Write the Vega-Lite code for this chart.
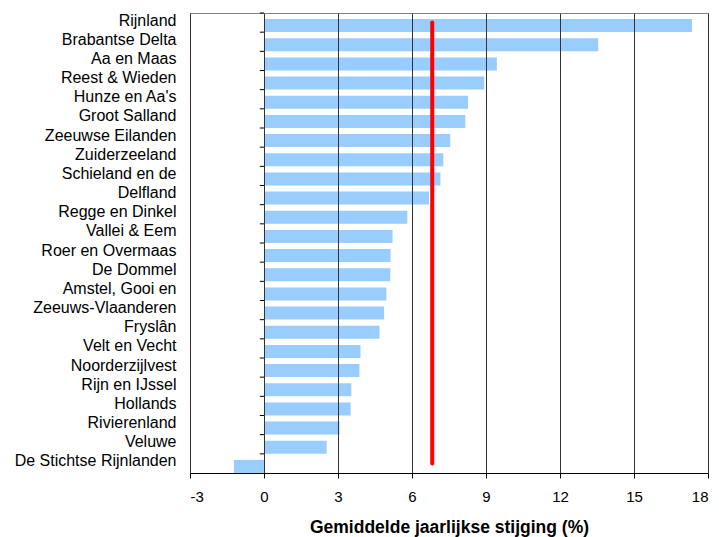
{
  "$schema": "https://vega.github.io/schema/vega-lite/v6.json",
  "width": 518,
  "height": 460,
  "autosize": {"type": "none"},
  "padding": {"left": 190, "top": 13, "right": 11, "bottom": 64},
  "config": {
    "font": "Liberation Sans",
    "view": {"stroke": "#808080", "strokeWidth": 1},
    "background": "white"
  },
  "datasets": {
    "bars": [
      {"region": "Rijnland", "value": 17.35},
      {"region": "Brabantse Delta", "value": 13.55},
      {"region": "Aa en Maas", "value": 9.44},
      {"region": "Reest & Wieden", "value": 8.93},
      {"region": "Hunze en Aa's", "value": 8.27},
      {"region": "Groot Salland", "value": 8.16},
      {"region": "Zeeuwse Eilanden", "value": 7.55},
      {"region": "Zuiderzeeland", "value": 7.27},
      {"region": "Schieland en de", "value": 7.15},
      {"region": "Delfland", "value": 6.69},
      {"region": "Regge en Dinkel", "value": 5.81},
      {"region": "Vallei & Eem", "value": 5.21},
      {"region": "Roer en Overmaas", "value": 5.13},
      {"region": "De Dommel", "value": 5.12},
      {"region": "Amstel, Gooi en", "value": 4.96},
      {"region": "Zeeuws-Vlaanderen", "value": 4.87},
      {"region": "Fryslân", "value": 4.68},
      {"region": "Velt en Vecht", "value": 3.91},
      {"region": "Noorderzijlvest", "value": 3.87},
      {"region": "Rijn en IJssel", "value": 3.54},
      {"region": "Hollands", "value": 3.51},
      {"region": "Rivierenland", "value": 3.06},
      {"region": "Veluwe", "value": 2.54},
      {"region": "De Stichtse Rijnlanden", "value": -1.22}
    ],
    "avg": [
      {"from": "Rijnland", "to": "De Stichtse Rijnlanden", "avg": 6.82}
    ]
  },
  "layer": [
    {
      "data": {"name": "bars"},
      "mark": {"type": "bar", "color": "#99CCFF", "height": {"band": 0.68}, "yOffset": 3},
      "encoding": {
        "y": {
          "field": "region",
          "type": "nominal",
          "sort": null,
          "scale": {"paddingInner": 0, "paddingOuter": 0},
          "axis": {
            "title": null,
            "domain": false,
            "ticks": false,
            "tickSize": 0,
            "grid": false,
            "labelPadding": 14,
            "labelFontSize": 16,
            "labelColor": "#000000",
            "labelOffset": -2,
            "labelLimit": 300
          }
        },
        "x": {
          "field": "value",
          "type": "quantitative",
          "scale": {"domain": [-3, 18], "nice": false, "zero": false},
          "axis": {
            "title": "Gemiddelde jaarlijkse stijging (%)",
            "values": [-3, 0, 3, 6, 9, 12, 15, 18],
            "labelExpr": "'' + datum.value",
            "grid": true,
            "gridColor": "#333333",
            "gridOpacity": 1,
            "gridWidth": 1,
            "domainColor": "#000000",
            "domainWidth": 1,
            "tickColor": "#000000",
            "tickSize": 5,
            "labelFontSize": 15,
            "labelColor": "#000000",
            "labelPadding": 11,
            "titleFontSize": 17.5,
            "titleFontWeight": "bold",
            "titleColor": "#000000",
            "titlePadding": 14,
            "zindex": 1
          }
        }
      }
    },
    {
      "data": {"name": "bars"},
      "mark": {"type": "rule", "color": "#000000", "strokeWidth": 1},
      "encoding": {
        "y": {"field": "region", "type": "nominal", "sort": null, "bandPosition": 0},
        "x": {"datum": -0.17, "type": "quantitative"},
        "x2": {"datum": 0}
      }
    },
    {
      "data": {"name": "avg"},
      "mark": {"type": "rule", "color": "#FF0000", "strokeWidth": 4, "strokeCap": "round"},
      "encoding": {
        "x": {"field": "avg", "type": "quantitative"},
        "y": {"field": "from", "type": "nominal", "sort": null},
        "y2": {"field": "to"}
      }
    }
  ]
}
